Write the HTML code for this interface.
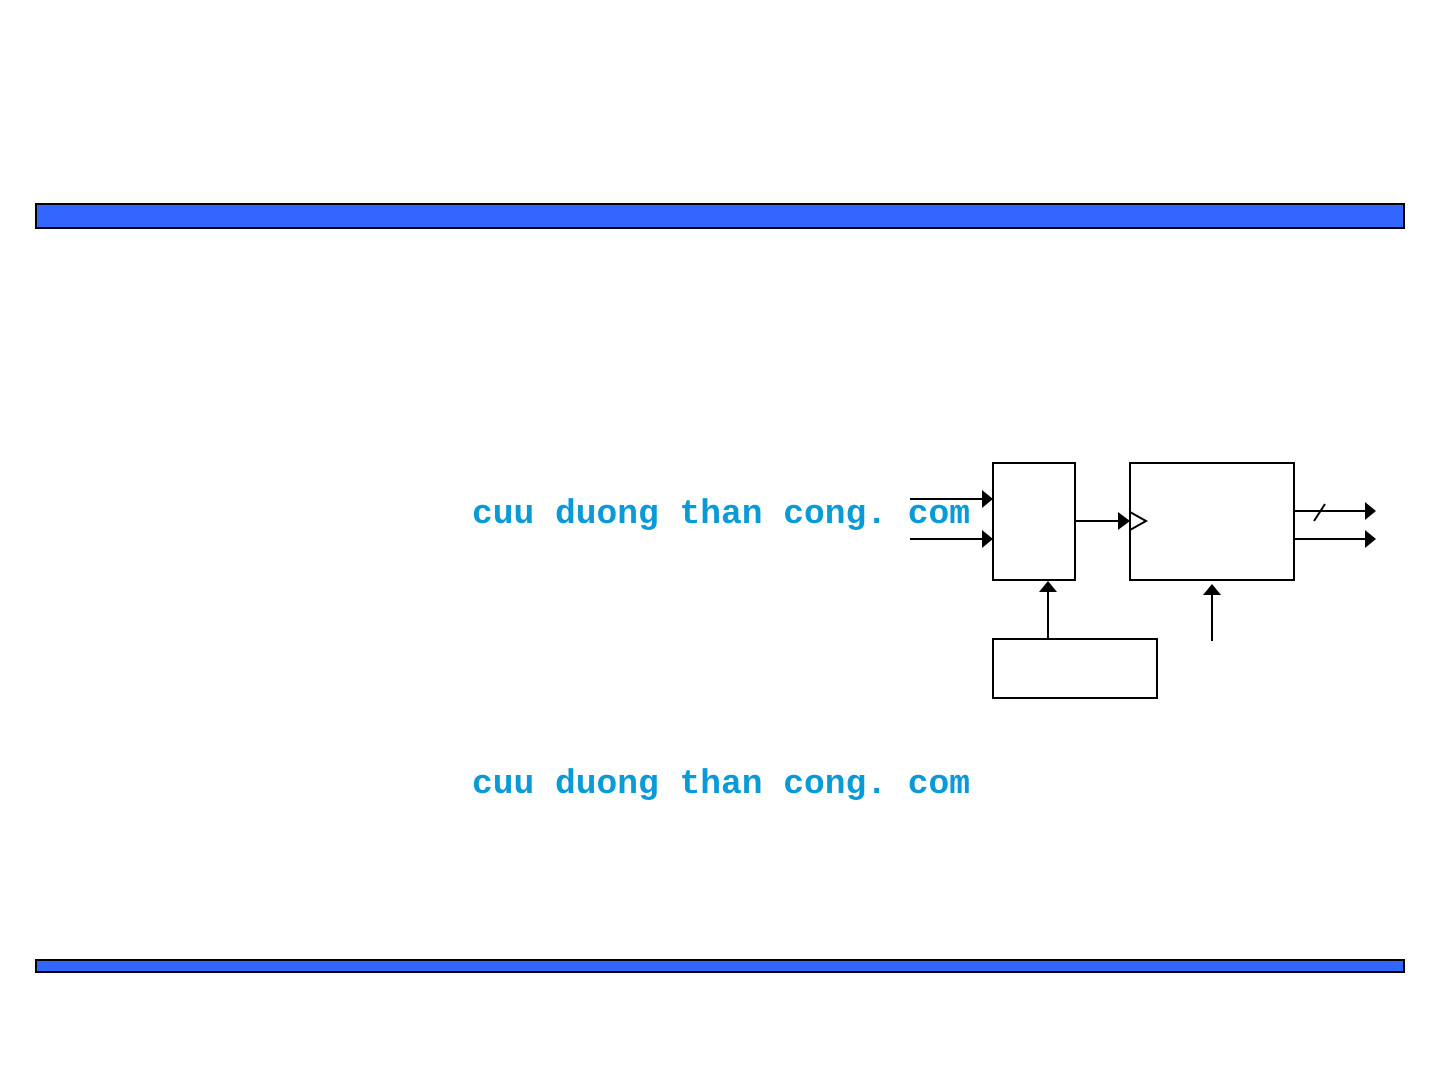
<!DOCTYPE html>
<html><head><style>
html,body{margin:0;padding:0;background:#fff;}
body{width:1441px;height:1081px;position:relative;overflow:hidden;}
.wm{position:absolute;left:472px;font-family:"Liberation Mono",monospace;font-size:34.6px;color:#0a9ad8;font-weight:bold;letter-spacing:0;white-space:pre;line-height:1;}
</style></head><body>
<svg width="1441" height="1081" style="position:absolute;left:0;top:0">
<rect x="36" y="204" width="1368" height="24" fill="#3366ff" stroke="#000" stroke-width="2"/>
<rect x="36" y="960" width="1368" height="12" fill="#3366ff" stroke="#000" stroke-width="2"/>
<g stroke="#000" stroke-width="2" fill="none">
<rect x="993" y="463" width="82" height="117"/>
<rect x="1130" y="463" width="164" height="117"/>
<rect x="993" y="639" width="164" height="59"/>
<line x1="910" y1="499" x2="982" y2="499"/>
<line x1="910" y1="539" x2="982" y2="539"/>
<line x1="1075" y1="521" x2="1118" y2="521"/>
<line x1="1048" y1="639" x2="1048" y2="592"/>
<line x1="1212" y1="641" x2="1212" y2="595"/>
<line x1="1294" y1="511" x2="1365" y2="511"/>
<line x1="1294" y1="539" x2="1365" y2="539"/>
<line x1="1314" y1="521" x2="1325" y2="504"/>
<polyline points="1130,512 1146,521 1130,530"/>
</g>
<g fill="#000">
<polygon points="982,490 993,499 982,508"/>
<polygon points="982,530 993,539 982,548"/>
<polygon points="1118,512 1130,521 1118,530"/>
<polygon points="1039,592 1048,581 1057,592"/>
<polygon points="1203,595 1212,584 1221,595"/>
<polygon points="1365,502 1376,511 1365,520"/>
<polygon points="1365,530 1376,539 1365,548"/>
</g>
</svg>
<div class="wm" style="top:498px">cuu duong than cong. com</div>
<div class="wm" style="top:768px">cuu duong than cong. com</div>
</body></html>
